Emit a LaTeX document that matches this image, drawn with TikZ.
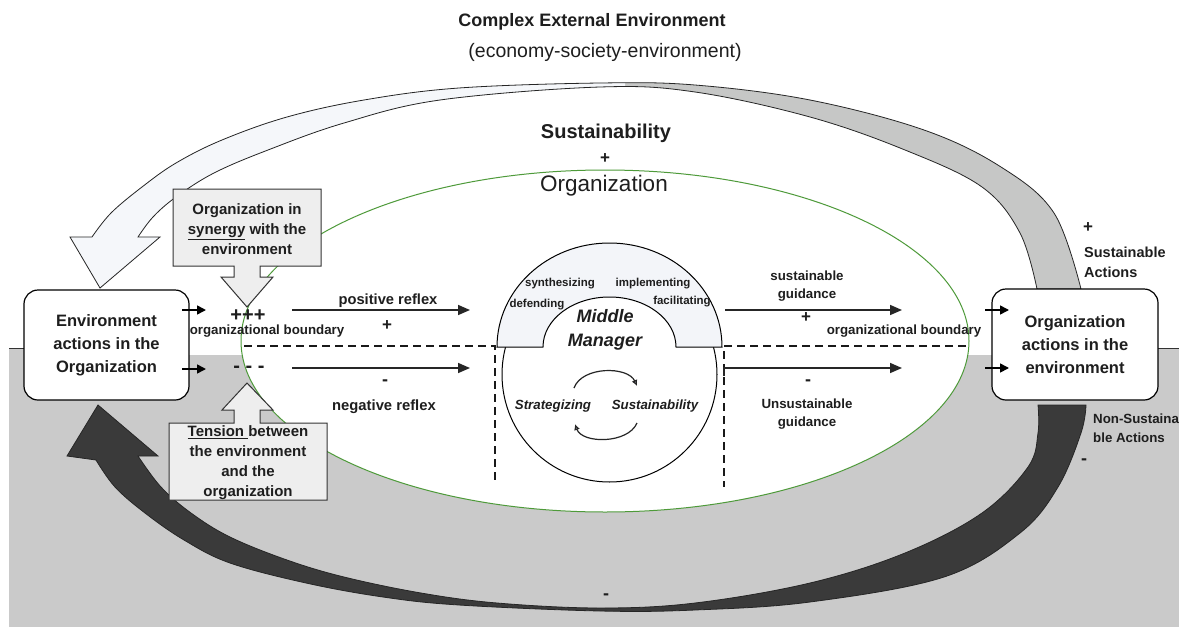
\documentclass[tikz,border=0pt]{standalone}
\usepackage{fontspec}
\setmainfont{Liberation Sans}
\usetikzlibrary{arrows.meta}
\definecolor{bggray}{HTML}{CACACA}
\definecolor{bandgray}{HTML}{C6C7C6}
\definecolor{bandlight}{HTML}{F5F7FA}
\definecolor{banddark}{HTML}{3A3A3A}
\definecolor{calloutfill}{HTML}{EEEEEE}
\definecolor{ringfill}{HTML}{F3F5F9}
\definecolor{ellgreen}{HTML}{4E9A3A}
\definecolor{txt}{HTML}{1E1E1E}
\newcommand\fsz[2]{\fontsize{#1}{#2}\selectfont}
\begin{document}
\begin{tikzpicture}[x=1pt,y=-1pt,
  lbl/.style={inner sep=0pt, text=txt},
  actbox/.style={draw=black, line width=1.2pt, rounded corners=14pt, fill=white, inner sep=0pt, text=txt},
  callout/.style={draw=black!80, line width=1pt, fill=calloutfill},
  dashline/.style={draw=black!90, line width=1.6pt, dash pattern=on 8pt off 5pt},
  reflex/.style={draw=black!85, line width=1.6pt, -{Triangle[length=12pt,width=10pt]}},
  smallarr/.style={draw=black, line width=1.6pt, -{Triangle[length=9pt,width=9pt]}},
  cyc/.style={draw=black!85, line width=1.2pt, -{Latex[length=6pt,width=6pt,fill=blue!8]}},
  bandline/.style={draw=black!85, line width=0.8pt}
]
\useasboundingbox (0,0) rectangle (1179,627);
\fill[white] (0,0) rectangle (1179,627);

% gray lower region
\fill[bggray] (9,348) rectangle (1179,627);
\fill[white] (189,346.5) rectangle (992,355);
\draw[black!80, line width=0.8pt] (9,348) -- (30,348);
\draw[black!80, line width=0.8pt] (1150,348) -- (1179,348);

% organization ellipse
\draw[ellgreen, line width=1pt, fill=white] (605,341) ellipse [x radius=364, y radius=171];

% top band arrow (sustainable actions)
\def\topband{plot[smooth,tension=0.6] coordinates {(1081,289) (1054,213) (1001,167) (924,130) (810,100) (695,85) (600,83) (459,88) (364,100) (287,117) (222,140) (176,163) (142,187) (111,213) (92,237)} -- (70,237) -- (100,288) -- (160,237) -- plot[smooth,tension=0.6] coordinates {(138,237) (153,217) (176,197) (214,173) (268,150) (344,123) (440,100) (600,87) (695,92) (810,117) (905,150) (982,187) (1020,233) (1037,289)} -- cycle}
\fill[bandgray] \topband;
\begin{scope}
  \clip (0,0) rectangle (625,300);
  \fill[bandlight] \topband;
\end{scope}
\draw[bandline] \topband;

% bottom band arrow (non-sustainable actions)
\filldraw[fill=banddark, bandline] plot[smooth,tension=0.6] coordinates {(1086,405) (1081,433) (1058,487) (1020,533) (944,577) (810,602) (695,610) (600,611) (459,605) (383,597) (306,583) (230,563) (184,540) (145,513) (115,487) (96,460)} -- (67,456) -- (98,405) -- (158,456) -- plot[smooth,tension=0.6] coordinates {(138,456) (161,487) (191,513) (230,537) (287,560) (344,577) (421,593) (497,603) (600,608) (695,603) (810,583) (905,553) (982,513) (1028,467) (1038,433) (1038,405)} -- cycle;

% action boxes
\node[actbox, minimum width=165pt, minimum height=110pt, font=\fsz{16.5}{23}\bfseries, align=center] (envbox) at (106.5,345) {Environment\\actions in the\\Organization};
\node[actbox, minimum width=166pt, minimum height=111pt, font=\fsz{16.5}{23}\bfseries, align=center] (orgbox) at (1075,344.5) {Organization\\actions in the\\environment};

% callouts
\draw[callout] (173,189) -- (321,189) -- (321,266) -- (260,266) -- (260,277) -- (273,277) -- (247,307) -- (221,277) -- (234,277) -- (234,266) -- (173,266) -- cycle;
\node[lbl, font=\fsz{15}{20}\bfseries, align=center] (syntext) at (247,229) {Organization in\\\underline{synergy} with the\\environment};
\draw[callout] (169,500) -- (169,423) -- (234,423) -- (234,410) -- (222,410) -- (247,383) -- (273,410) -- (260,410) -- (260,423) -- (327,423) -- (327,500) -- cycle;
\node[lbl, font=\fsz{15}{20}\bfseries, align=center] (tentext) at (248,463) {\underline{Tension\ }between\\the environment\\and the\\organization};

% small arrows at boxes
\coordinate (la1s) at (182,310); \coordinate (la1e) at (206,310);
\coordinate (la2s) at (182,369); \coordinate (la2e) at (206,369);
\coordinate (ra1s) at (985,310); \coordinate (ra1e) at (1009,310);
\coordinate (ra2s) at (985,368); \coordinate (ra2e) at (1009,368);
\draw[smallarr] (la1s) -- (la1e);
\draw[smallarr] (la2s) -- (la2e);
\draw[smallarr] (ra1s) -- (ra1e);
\draw[smallarr] (ra2s) -- (ra2e);

% dashed organizational boundary
\coordinate (dl1) at (244,346); \coordinate (dl2) at (495,346); \coordinate (dl3) at (495,483);
\coordinate (dr1) at (966,346); \coordinate (dr2) at (724,346); \coordinate (dr3) at (724,487);
\draw[dashline] (dl1) -- (dl2) -- (dl3);
\draw[dashline] (dr1) -- (dr2) -- (dr3);

% reflex / guidance arrows
\coordinate (pr1) at (292,310); \coordinate (pr2) at (470,310);
\coordinate (nr1) at (292,368); \coordinate (nr2) at (470,368);
\coordinate (sg1) at (725,310); \coordinate (sg2) at (902,310);
\coordinate (ug0) at (724,376); \coordinate (ug1) at (724,368); \coordinate (ug2) at (902,368);
\draw[reflex] (pr1) -- (pr2);
\draw[reflex] (nr1) -- (nr2);
\draw[reflex] (sg1) -- (sg2);
\draw[reflex] (ug0) -- (ug1) -- (ug2);

% middle manager
\draw[black, line width=1pt, fill=white] (609.5,374.5) circle [radius=107.5];
\fill[white] (497,347) arc[start angle=180, end angle=360, x radius=112.5, y radius=104] -- cycle;
\filldraw[fill=ringfill, draw=black, line width=1pt] (497,347) arc[start angle=180, end angle=360, x radius=112.5, y radius=104] -- (676,347) arc[start angle=0, end angle=-180, x radius=66.5, y radius=50] -- cycle;
\draw[cyc] (574,388) .. controls (582,366) and (628,366) .. (637,386);
\draw[cyc] (637,423) .. controls (628,444) and (582,444) .. (575,424);

% texts
\node[lbl, font=\fsz{18}{20}\bfseries] (title) at (592,22) {Complex External Environment};
\node[lbl, font=\fsz{19.5}{22}] (subtitle) at (605,52) {(economy-society-environment)};
\node[lbl, font=\fsz{20}{22}\bfseries] (sustain) at (606,133) {Sustainability};
\node[lbl, font=\fsz{17}{18}\bfseries] (plusmid) at (605,159) {+};
\node[lbl, font=\fsz{22.5}{24}] (orgword) at (604,186) {Organization};

\node[lbl, font=\fsz{11.5}{12}\bfseries] (synth) at (560,284) {synthesizing};
\node[lbl, font=\fsz{11.5}{12}\bfseries] (impl) at (653,284) {implementing};
\node[lbl, font=\fsz{11.5}{12}\bfseries] (defe) at (537,305) {defending};
\node[lbl, font=\fsz{11.5}{12}\bfseries] (faci) at (682,302) {facilitating};
\node[lbl, font=\fsz{18}{24}\bfseries\itshape, align=center] (mm) at (605,330) {Middle\\Manager};
\node[lbl, font=\fsz{13.3}{14}\bfseries\itshape] (strat) at (553,406) {Strategizing};
\node[lbl, font=\fsz{13.3}{14}\bfseries\itshape] (sustit) at (655,406) {Sustainability};

\node[lbl, font=\fsz{14.7}{16}\bfseries] (posr) at (388,301) {positive reflex};
\node[lbl, font=\fsz{17}{16}\bfseries] (posplus) at (387,326) {+};
\node[lbl, font=\fsz{13.3}{14}\bfseries] (obl) at (267,331) {organizational boundary};
\node[lbl, font=\fsz{20}{20}\bfseries] (ppp) at (248,316) {+++};
\node[lbl, font=\fsz{20}{20}\bfseries] (mmm) at (249,369) {- - -};
\node[lbl, font=\fsz{18}{16}\bfseries] (negminus) at (385,383) {-};
\node[lbl, font=\fsz{14.8}{16}\bfseries] (negr) at (384,407) {negative reflex};

\node[lbl, font=\fsz{13.3}{18}\bfseries, align=center] (sg) at (807,286) {sustainable\\guidance};
\node[lbl, font=\fsz{17}{16}\bfseries] (sgplus) at (806,318) {+};
\node[lbl, font=\fsz{13.3}{14}\bfseries] (obr) at (904,331) {organizational boundary};
\node[lbl, font=\fsz{18}{16}\bfseries] (ugminus) at (808,383) {-};
\node[lbl, font=\fsz{13.3}{18}\bfseries, align=center] (ug) at (807,414) {Unsustainable\\guidance};

\node[lbl, font=\fsz{17}{16}\bfseries] (saplus) at (1088,228) {+};
\node[lbl, font=\fsz{14.5}{20}\bfseries, align=left, anchor=west] (sa) at (1084,262) {Sustainable\\Actions};
\node[lbl, font=\fsz{13.3}{19}\bfseries, align=left, anchor=west] (nsa) at (1093,428.5) {Non-Sustaina\\ble Actions};
\node[lbl, font=\fsz{18}{16}\bfseries] (nsaminus) at (1084,462) {-};
\node[lbl, font=\fsz{18}{16}\bfseries] (botminus) at (606,597) {-};
\end{tikzpicture}
\end{document}
